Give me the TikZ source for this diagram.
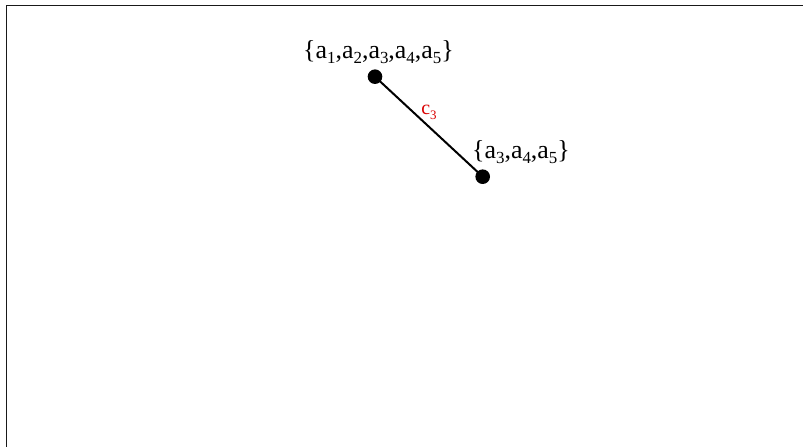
\documentclass[tikz,border=0pt]{standalone}
\usepackage{fontspec}
\setmainfont{Liberation Serif}
\newcommand{\sbs}[1]{\raisebox{-0.22em}{\fontsize{17}{20}\selectfont #1}}
\newcommand{\sbsm}[1]{\raisebox{-0.22em}{\fontsize{13}{15}\selectfont #1}}
\newcommand{\sa}[1]{a\sbs{#1}}
\begin{document}
\begin{tikzpicture}[x=1bp,y=-1bp,
  vertex/.style={circle,fill=black,inner sep=0pt,minimum size=14.6bp},
  setlabel/.style={font=\fontsize{26}{30}\selectfont,inner sep=0pt,anchor=base},
  edgelabel/.style={font=\fontsize{20}{24}\selectfont,text=red!85!black,inner sep=0pt,anchor=base},
  edge/.style={line width=2bp},
  frame/.style={line width=1.5bp,draw=black!90}]
\useasboundingbox (0,0) rectangle (804,447);
\coordinate (tl) at (6.5,5.3);
\coordinate (tr) at (803,5.3);
\coordinate (bl) at (6.5,447);
\draw[frame] (bl) -- (tl) -- (tr);
\node[vertex] (v1) at (375,76.7) {};
\node[vertex] (v2) at (482.7,176.7) {};
\draw[edge] (v1.center) -- (v2.center);
\node[setlabel] (l1) at (378.5,58.3) {\{\sa{1},\sa{2},\sa{3},\sa{4},\sa{5}\}};
\node[setlabel] (l2) at (521,158.3) {\{\sa{3},\sa{4},\sa{5}\}};
\node[edgelabel] (c3) at (429,115) {c\sbsm{3}};
\end{tikzpicture}
\end{document}
